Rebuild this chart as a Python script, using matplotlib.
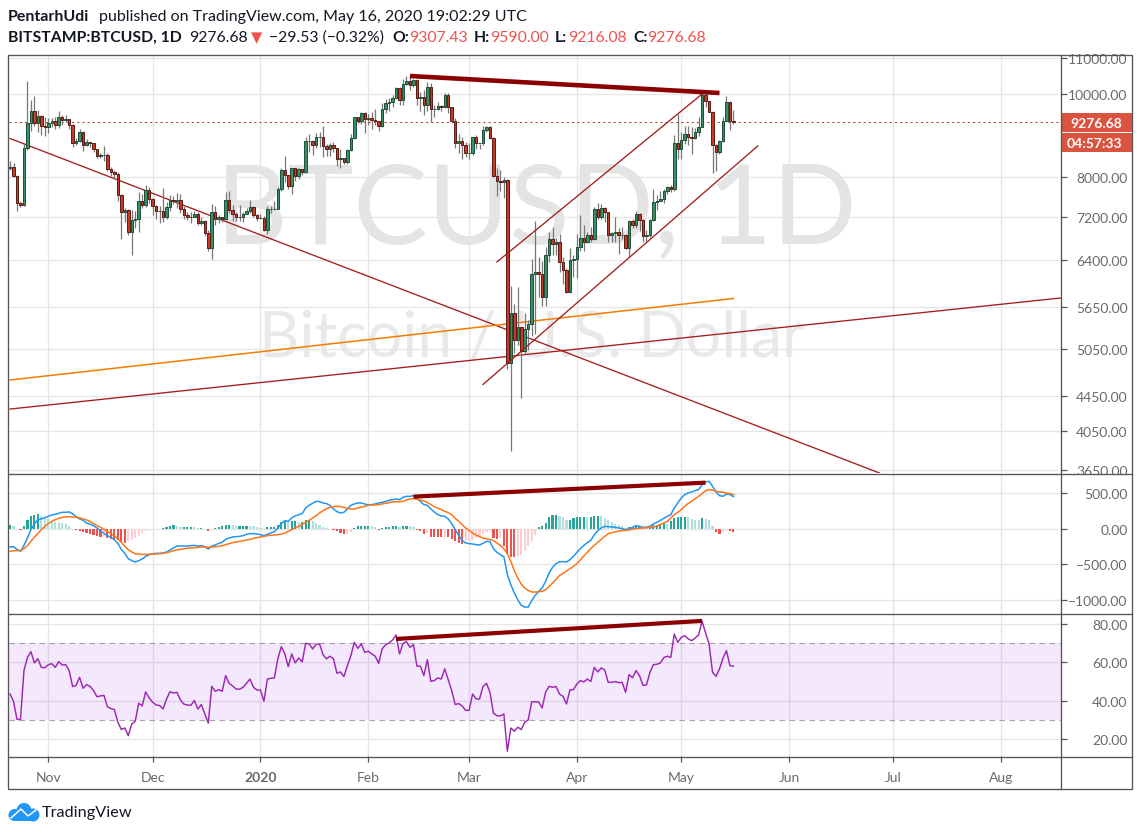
import matplotlib
matplotlib.use('Agg')
import matplotlib.pyplot as plt
import matplotlib.dates as mdates
from matplotlib.patches import Rectangle, Circle
from matplotlib.ticker import NullLocator
import numpy as np
import pandas as pd

W, H = 1147, 837

dates = pd.date_range('2019-10-21', '2020-05-16')

closes = [8226,8026,7470,7420,8660,9250,9550,9250,9430,9180,9150,
    9250,9300,9200,9400,9320,9340,9200,8770,8810,9030,8720,8800,8760,8630,8460,8490,8500,8170,8120,8080,7620,7280,7320,6900,7130,7160,7510,7420,7740,7540,
    7400,7300,7300,7190,7390,7530,7500,7520,7340,7220,7200,7190,7250,7070,7110,6880,6620,7290,7150,7190,7150,7520,7320,7250,7200,7190,7250,7310,7390,7220,7170,
    7180,6950,7340,7350,7350,7760,8150,8050,7820,8190,8020,8180,8110,8810,8820,8720,8900,8900,8700,8630,8730,8660,8390,8430,8330,8600,8890,9390,9290,9500,9340,
    9380,9330,9290,9180,9610,9760,9800,9900,10150,9850,10270,10350,10240,10370,9900,9930,9700,10180,9600,9600,9690,9660,9960,9660,9310,8780,8820,8720,8530,
    8530,8910,8760,8760,9070,9150,8890,8030,7930,7890,7940,4860,5560,5170,5360,5020,5330,5400,6180,6200,6180,5810,6490,6770,6680,6730,6370,6240,5880,6400,6420,
    6640,6800,6730,6860,6770,7340,7200,7360,7290,6860,6890,6910,6850,6860,6620,7110,7030,7250,7130,6830,6850,7130,7490,7510,7540,7700,7790,7750,8780,8620,
    8830,8980,8900,8880,9030,9150,9980,9810,9540,8720,8560,8810,9310,9800,9307.43,9276.68]
opens = [8200,8226,8026,7470,7420,8660,9250,9550,9250,9430,9180,
    9150,9250,9300,9200,9400,9320,9340,9200,8770,8810,9030,8720,8800,8760,8630,8460,8490,8500,8170,8120,8080,7620,7280,7320,6900,7130,7160,7510,7420,7740,
    7540,7400,7300,7300,7190,7390,7530,7500,7520,7340,7220,7200,7190,7250,7070,7110,6880,6620,7290,7150,7190,7150,7520,7320,7250,7200,7190,7250,7310,7390,7220,
    7170,7180,6950,7340,7350,7350,7760,8150,8050,7820,8190,8020,8180,8110,8810,8820,8720,8900,8900,8700,8630,8730,8660,8390,8430,8330,8600,8890,9390,9290,9500,
    9340,9380,9330,9290,9180,9610,9760,9800,9900,10150,9850,10270,10350,10240,10370,9900,9930,9700,10180,9600,9600,9690,9660,9960,9660,9310,8780,8820,8720,
    8530,8530,8910,8760,8760,9070,9150,8890,8030,7930,7890,7940,4860,5560,5170,5360,5020,5330,5400,6180,6200,6180,5810,6490,6770,6680,6730,6370,6240,5880,6400,
    6420,6640,6800,6730,6860,6770,7340,7200,7360,7290,6860,6890,6910,6850,6860,6620,7110,7030,7250,7130,6830,6850,7130,7490,7510,7540,7700,7790,7750,8780,
    8620,8830,8980,8900,8880,9030,9150,9980,9810,9540,8720,8560,8810,9310,9800,9307.43]
highs = [8350,8310,8050,7500,8750,10350,9830,9950,9580,9450,9400,
    9380,9370,9400,9560,9460,9440,9360,9220,8880,9100,9060,8870,8800,8780,8640,8540,8700,8530,8220,8150,8120,7650,7370,7350,7320,7310,7690,7650,7840,7800,
    7560,7420,7400,7770,7480,7620,7610,7660,7650,7400,7280,7280,7310,7290,7200,7130,6950,7450,7400,7230,7170,7690,7700,7430,7290,7430,7290,7360,7520,7410,7240,
    7250,7210,7410,7400,7500,7800,8210,8470,8050,8200,8210,8190,8180,8920,8980,8850,9010,9030,9180,8750,8780,8800,8650,8630,8390,8640,8980,9400,9400,9530,9530,
    9480,9530,9600,9300,9760,9860,9880,9980,10180,10180,10400,10490,10500,10420,10420,10060,10100,10320,10300,9700,9780,9700,10020,10020,9660,9370,8990,8910,8800,
    8760,8910,8950,8750,9180,9180,9180,8900,8200,8160,8000,7960,5980,5700,5960,5340,5560,5450,6420,7120,6460,6390,6640,6910,7000,6800,6870,6460,6270,6620,6500,
    6870,7230,7030,6910,7000,7390,7470,7440,7390,7290,6910,7190,6980,7000,6870,7130,7150,7310,7260,7150,6950,7150,7750,7620,7710,7750,7810,7830,8970,9470,
    9030,9180,9180,9150,9120,9400,10090,10060,9820,9560,8750,8850,9400,9950,9820,9590]
lows = [8150,8000,7300,7380,7400,8610,9060,9180,9040,8950,8940,
    9000,9150,9110,9120,9210,9270,9100,8680,8730,8790,8590,8690,8670,8570,8420,8430,8360,8130,8020,7990,7500,6770,7100,6860,6500,6990,6900,7370,7390,7460,
    7230,7150,7080,7100,7150,7300,7450,7370,7270,7160,7130,7080,7190,7030,7030,6840,6570,6430,7040,7080,7090,7130,7270,7120,7110,7120,7090,7240,7270,7200,7120,
    7150,6920,6870,7260,7340,7350,7700,7900,7750,7640,7930,7960,8050,8090,8560,8500,8660,8670,8450,8470,8470,8560,8250,8200,8290,8280,8580,8870,9260,9220,9000,
    9200,9100,9190,9060,9150,9500,9560,9650,9870,9720,9700,10250,10100,10180,9700,9560,9440,9560,9280,9400,9570,9560,9620,9500,9250,8650,8530,8400,8450,
    8400,8490,8630,8630,8730,9030,8860,8000,7610,7700,7570,4780,3840,5000,5100,4430,5000,5030,5230,5260,5800,5660,5670,6380,6490,6500,6200,6010,5860,5860,6120,
    6110,6570,6570,6750,6730,6760,7150,7150,7090,6730,6730,6730,6510,6780,6600,6460,6990,6990,6930,6730,6750,6820,7120,7320,7500,7470,7640,7680,7710,8400,
    8400,8750,8730,8510,8860,8940,9150,9660,9560,8100,8130,8510,8790,9330,9090,9216]

macd = [-257,-252,-290,-318,-234,-131,-14,65,126,136,154,
    173,192,201,215,229,229,234,210,168,136,117,79,61,42,9,-33,-65,-98,-122,-154,-206,-290,-346,-421,-449,-467,-449,-425,-388,-365,
    -351,-346,-346,-341,-327,-299,-271,-243,-243,-243,-243,-238,-234,-243,-238,-252,-285,-243,-229,-206,-192,-150,-131,-117,-112,-108,-98,-79,-70,-70,-75,
    -84,-98,-79,-61,-42,9,70,112,103,150,178,196,210,290,327,355,383,379,360,351,327,276,238,220,229,276,327,346,360,360,346,
    332,337,346,360,369,383,397,407,416,407,439,453,453,463,421,383,337,327,276,234,196,178,173,136,70,-14,-94,-164,-201,
    -210,-215,-224,-229,-206,-178,-182,-280,-332,-365,-393,-645,-785,-902,-996,-1075,-1099,-1099,-1010,-935,-879,-832,-739,-622,-542,-491,-463,-463,-467,-435,-388,
    -332,-280,-234,-196,-164,-84,-28,9,33,28,23,19,9,0,-14,0,19,42,33,19,19,33,65,89,117,145,173,196,290,360,
    430,477,500,514,533,547,617,654,664,594,514,463,453,486,477,449]
signal = [-318,-309,-304,-309,-280,-238,-178,-122,-65,-14,33,
    70,103,126,145,159,164,168,164,159,150,136,122,98,70,42,19,-9,-42,-70,-103,-145,-192,-248,-295,-327,-351,-355,-360,-360,-360,
    -355,-355,-351,-346,-337,-323,-309,-299,-290,-280,-276,-271,-266,-262,-257,-257,-262,-257,-252,-248,-238,-224,-210,-196,-187,-178,-168,-159,-150,-136,-126,
    -117,-108,-98,-94,-89,-84,-75,-61,-37,-14,9,33,61,89,117,150,182,220,252,280,299,308,313,308,299,285,276,276,290,304,313,
    327,332,332,337,346,355,365,374,379,379,383,402,416,421,411,402,388,365,337,309,290,266,243,224,196,145,103,56,9,
    -23,-61,-89,-112,-131,-140,-154,-168,-201,-234,-280,-355,-458,-589,-692,-776,-832,-865,-888,-888,-884,-879,-856,-809,-762,-711,-655,-626,-594,-561,-528,
    -491,-439,-383,-332,-280,-234,-192,-150,-108,-70,-56,-47,-33,-28,-23,-19,-5,0,5,9,14,19,23,37,56,79,103,150,196,229,
    266,313,355,383,421,453,491,533,547,542,524,514,510,500,491,477]
hist = [56,33,0,-23,42,126,182,196,210,178,150,
    136,112,98,89,75,61,42,0,-14,-28,-47,-65,-75,-84,-108,-117,-98,-131,-145,-154,-164,-192,-201,-178,-154,-131,-98,-61,-37,-14,
    -5,-5,-5,9,19,33,47,33,28,28,28,28,23,9,9,-5,-37,-5,9,23,33,56,56,47,42,42,42,42,37,33,19,
    9,0,19,28,28,56,89,112,103,112,112,94,94,122,122,112,79,47,28,9,-5,-14,-37,-56,-79,-70,-47,9,33,37,42,
    42,33,23,-14,9,19,23,33,42,23,42,42,33,28,-19,-28,-75,-61,-112,-122,-122,-122,-112,-112,-140,-178,-196,-210,-178,
    -168,-154,-131,-103,-75,-47,-28,-131,-140,-131,-248,-341,-402,-402,-379,-365,-318,-248,-168,-84,19,37,79,159,187,196,182,168,126,126,150,
    164,168,168,159,168,182,182,173,150,117,89,65,51,33,9,28,28,33,33,23,19,33,47,56,65,79,65,103,150,164,
    168,168,164,136,126,117,150,140,117,33,-47,-75,-47,-14,-37,-47]
rsi = [43.5,39.7,30.3,30.2,55.7,62.6,65.6,59.7,61.9,57.4,57.2,
    58.8,59.3,57.4,60.4,58.6,58.8,55.7,47.4,48.0,52.2,46.5,48.4,47.5,45.3,42.1,42.5,42.8,36.9,35.9,35.4,28.8,25.0,25.8,21.8,27.9,29.3,38.7,37.3,44.6,41.5,
    39.2,37.8,37.5,35.7,40.9,44.7,44.0,44.4,40.4,38.2,37.8,37.6,40.1,35.7,38,33.1,28.3,47.5,44.9,45.8,44.9,53.1,49.1,47.7,46.1,46,47,49.1,51.3,47,45.6,
    45.6,39.7,51.3,51.7,51.9,61.8,68.2,64.4,57.8,64.4,59.7,62.3,60.2,69.9,69.6,67,69.4,69.6,64,61.8,63.2,61.8,54.3,55,52.6,58.3,63.5,70.4,67.3,69.6,65.2,
    65.8,64.4,63.2,59.5,67,69.2,70.1,71.7,74.3,64.4,69.9,70.8,67.8,69.2,58,58,53.1,61.4,50.1,50.5,51.9,51.3,56.6,51,45.3,38,38.5,37.3,35,
    35,43.5,40.9,40.9,47.4,49.1,44.4,33.5,32.2,32.1,33.1,13.7,25.8,24.1,26.2,25,28.8,30,39.4,39.5,39.4,36.2,44.4,47.5,47,47.4,43.5,42.3,38.3,45.6,45.8,
    48.7,50.5,49.8,51.3,50,57.4,55,57.1,56,49.6,49.6,50,49.4,49.6,44.4,53.6,52,55.7,53.1,48,48.2,54.8,58.8,59,59.7,62.5,63.2,62.6,74.8,70.4,
    73,73.9,72.2,71.3,72.7,74.3,81.4,75.3,69.6,54.8,52.7,56.6,62.1,66.1,58.3,58]

price_ticks = [11000, 10000, 8000, 7200, 6400, 5650, 5050, 4450, 4050, 3650]
macd_ticks = [500, 0, -500, -1000]
rsi_ticks = [80, 60, 40, 20]
month_ticks = ['2019-11-01', '2019-12-01', '2020-01-01', '2020-02-01', '2020-03-01', '2020-04-01', '2020-05-01', '2020-06-01', '2020-07-01', '2020-08-01']
month_labels = ['Nov', 'Dec', '2020', 'Feb', 'Mar', 'Apr', 'May', 'Jun', 'Jul', 'Aug']
last_price = 9276.68

# trend lines drawn on the chart: (start date, end date, start value, end value)
down_line = ('2019-10-21', '2020-06-27', 8875, 3620)
long_line = ('2019-10-21', '2020-08-18', 4297, 5787)
ma_line = ('2019-10-21', '2020-05-16', 4645, 5780)
chan_top = ('2020-03-09', '2020-05-07', 6374, 10000)
chan_bottom = ('2020-03-05', '2020-05-23', 4590, 8699)
price_div = ('2020-02-13', '2020-05-12', 10494, 10027)
macd_div = ('2020-02-14', '2020-05-08', 449, 645)
rsi_div = ('2020-02-09', '2020-05-07', 72.2, 81.6)

x = mdates.date2num(dates)
o = np.array(opens)
c = np.array(closes)
h = np.array(highs)
l = np.array(lows)
m_hist = np.array(hist)


def trend(ax, line, color, lw, **kw):
    xs = mdates.date2num(pd.to_datetime([line[0], line[1]]))
    ax.plot(xs, [line[2], line[3]], color=color, lw=lw, **kw)


def panel(top, bottom):
    a = fig.add_axes([9 / W, 1 - bottom / H, (1061 - 9) / W, (bottom - top) / H])
    for s in a.spines.values():
        s.set_visible(False)
    a.grid(True, color='#e6e6e6', lw=0.95)
    a.set_axisbelow(True)
    a.yaxis.tick_right()
    a.tick_params(axis='y', length=4, width=0.9, color='#555555', labelcolor='#6a6a6a', labelsize=10, pad=44)
    return a


def right_align(a):
    for lab in a.get_yticklabels():
        lab.set_ha('right')


fig = plt.figure(figsize=(W / 100, H / 100), dpi=100)
plt.rcParams['font.family'] = ['Lato', 'DejaVu Sans']

ov = fig.add_axes([0, 0, 1, 1], zorder=10)
ov.set_xlim(0, W)
ov.set_ylim(H, 0)
ov.axis('off')

ax1 = panel(56, 474)
ax2 = panel(475, 614)
ax3 = panel(615, 757)

xlim = (mdates.date2num(pd.Timestamp('2019-11-01')) - 11.3, mdates.date2num(pd.Timestamp('2019-11-01')) + 291.2)
tick_x = mdates.date2num(pd.to_datetime(month_ticks))
for a in (ax1, ax2, ax3):
    a.set_xlim(xlim)
    a.set_xticks(tick_x)
ax1.tick_params(axis='x', length=0, labelbottom=False)
ax2.tick_params(axis='x', length=0, labelbottom=False)
ax3.set_xticklabels(month_labels)
ax3.tick_params(axis='x', length=4, width=0.9, color='#555555', labelcolor='#6a6a6a', labelsize=10, pad=6.5)
ax3.get_xticklabels()[2].set_fontweight('bold')

# price panel
ax1.set_yscale('log')
ax1.set_ylim(3620, 11102)
ax1.set_yticks(price_ticks)
ax1.set_yticklabels(['%.2f' % p for p in price_ticks])
ax1.yaxis.set_minor_locator(NullLocator())
ax1.text(536, 213, 'BTCUSD, 1D', transform=ov.transData, fontsize=80, color='#e4e4e4',
         family='Lato', ha='center', va='center', zorder=0.3)
ax1.text(532, 339, 'Bitcoin / U.S. Dollar', transform=ov.transData, fontsize=45, color='#e9e9e9',
         family='Lato', ha='center', va='center', zorder=0.3)
trend(ax1, down_line, '#a61c1c', 0.95, zorder=2)
trend(ax1, long_line, '#a61c1c', 0.95, zorder=2)
trend(ax1, ma_line, '#f57c00', 1.1, zorder=2)
ax1.axhline(last_price, color='#b5402f', lw=0.75, dashes=(2, 3), zorder=2)
up = c >= o
ax1.vlines(x, l, h, color='#777777', lw=0.9, zorder=3)
ax1.bar(x[up], (c - o)[up], bottom=o[up], width=0.72, color='#3a8f66', edgecolor='#1f4e36', lw=0.7, zorder=4)
ax1.bar(x[~up], (o - c)[~up], bottom=c[~up], width=0.72, color='#c63a2a', edgecolor='#5c1a12', lw=0.7, zorder=4)
trend(ax1, chan_top, '#a61c1c', 0.95, zorder=5)
trend(ax1, chan_bottom, '#a61c1c', 0.95, zorder=5)
trend(ax1, price_div, '#8b0000', 3.3, zorder=6, solid_capstyle='butt')

# macd panel
ax2.set_ylim(-1182, 766)
ax2.set_yticks(macd_ticks)
ax2.set_yticklabels(['%.2f' % v if v >= 0 else '\u2212%.2f' % -v for v in macd_ticks])
prev = np.concatenate(([m_hist[0]], m_hist[:-1]))
colors = []
for v, p in zip(m_hist, prev):
    if v >= 0:
        colors.append('#26a69a' if v >= p else '#b2dfdb')
    else:
        colors.append('#ef5350' if v <= p else '#ffcdd2')
ax2.bar(x, m_hist, width=0.62, color=colors, zorder=2)
ax2.plot(x, macd, color='#2196f3', lw=1.1, zorder=3)
ax2.plot(x, signal, color='#ff7417', lw=1.1, zorder=4)
trend(ax2, macd_div, '#8b0000', 3.0, zorder=5, solid_capstyle='butt')

# rsi panel
ax3.set_ylim(11.2, 85.2)
ax3.set_yticks(rsi_ticks)
ax3.set_yticklabels(['%.2f' % v for v in rsi_ticks])
ax3.axhspan(30, 70, color='#a32fee', alpha=0.11, lw=0, zorder=1)
ax3.axhline(70, color='#8a7a92', lw=0.8, dashes=(5, 4), alpha=0.7, zorder=2)
ax3.axhline(30, color='#8a7a92', lw=0.8, dashes=(5, 4), alpha=0.7, zorder=2)
ax3.plot(x, rsi, color='#9c27b0', lw=1.05, zorder=3)
trend(ax3, rsi_div, '#8b0000', 3.0, zorder=5, solid_capstyle='butt')

for a in (ax1, ax2, ax3):
    right_align(a)

# frame, right scale boxes
ov.add_patch(Rectangle((1063, 475), 68, 10, fc='white', ec='none'))
ov.add_patch(Rectangle((8, 55.5), 1124, 734.5, fc='none', ec='#555555', lw=0.95))
ov.plot([1061, 1061], [55.5, 790], color='#555555', lw=0.95)
for yy in (474.5, 614.5, 757.5):
    ov.plot([8, 1132], [yy, yy], color='#555555', lw=0.95)
ov.add_patch(Rectangle((1062, 114), 70, 18.5, fc='#d9533f', ec='none'))
ov.add_patch(Rectangle((1062, 134), 70, 19, fc='#d9533f', ec='none'))
ov.text(1096.5, 123.5, '9276.68', color='white', fontsize=10, fontweight='bold', ha='center', va='center')
ov.text(1094, 143.5, '04:57:33', color='white', fontsize=10, fontweight='bold', ha='center', va='center')

# header
dark = '#131722'
red = '#ef5350'
ov.text(8, 16.5, 'PentarhUdi', color=dark, fontsize=11.5, fontweight='bold', va='center')
ov.text(99, 16.5, 'published on TradingView.com, May 16, 2020 19:02:29 UTC', color=dark, fontsize=11.5, va='center')
ov.text(8, 38, 'BITSTAMP:BTCUSD, 1D', color=dark, fontsize=11.3, fontweight='bold', va='center')
ov.text(189, 38, '9276.68', color=dark, fontsize=11.3, va='center')
ov.text(251, 38, '\u25bc', color=red, fontsize=10.5, family='DejaVu Sans', va='center')
ov.text(269, 38, '\u221229.53 (\u22120.32%)', color=dark, fontsize=11.3, va='center')
for lx, lab, vx, val in [(392, 'O:', 409, '9307.43'), (474, 'H:', 490, '9590.00'),
                         (555, 'L:', 568, '9216.08'), (633, 'C:', 647, '9276.68')]:
    ov.text(lx, 38, lab, color=dark, fontsize=11.3, fontweight='bold', va='center')
    ov.text(vx, 38, val, color=red, fontsize=11.3, va='center')

# logo
for cx, cy, r in [(24, 811.5, 7.5), (14.5, 816, 6), (33, 816, 6.5)]:
    ov.add_patch(Circle((cx, cy), r, fc='#2196f3', ec='none'))
ov.add_patch(Rectangle((14.5, 814), 19, 8, fc='#2196f3', ec='none'))
ov.plot([11, 21, 28, 36], [819, 810, 817, 811], color='white', lw=1.1)
ov.text(42, 813.5, 'TradingView', color=dark, fontsize=11.7, va='center')

fig.savefig('out.png', dpi=100)
